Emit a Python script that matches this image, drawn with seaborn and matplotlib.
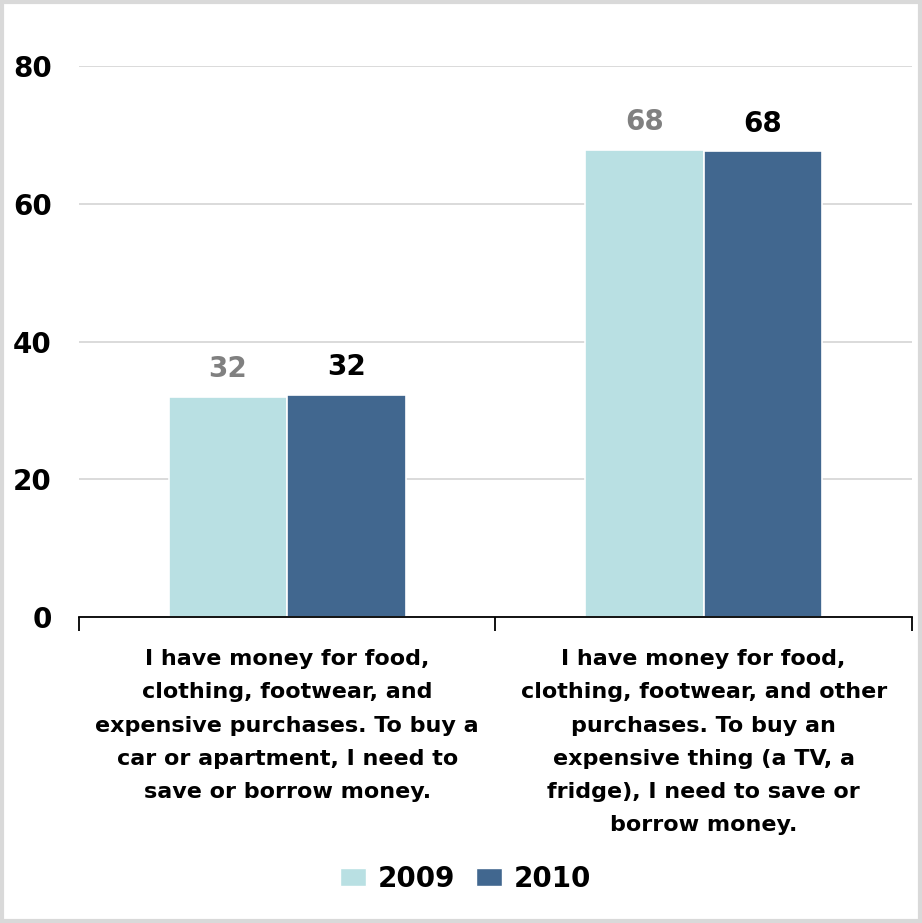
import matplotlib
matplotlib.use("Agg")
import matplotlib.pyplot as plt
import matplotlib.patches as mpatches
import seaborn as sns
import pandas as pd

sns.set_theme(style="white")
plt.rcParams["font.family"] = ["DejaVu Sans"]
plt.rcParams.update({"text.color": "black", "xtick.color": "black",
                     "ytick.color": "black", "axes.labelcolor": "black"})

categories = [
    "I have money for food,\nclothing, footwear, and\nexpensive purchases. To buy a\ncar or apartment, I need to\nsave or borrow money.",
    "I have money for food,\nclothing, footwear, and other\npurchases. To buy an\nexpensive thing (a TV, a\nfridge), I need to save or\nborrow money.",
]
years = ["2009", "2010"]
values_2009 = [31.9, 67.8]
values_2010 = [32.2, 67.6]
labels_2009 = ["32", "68"]
labels_2010 = ["32", "68"]
colors = {"2009": "#b9e0e3", "2010": "#41678f"}
label_colors = {"2009": "#808080", "2010": "#000000"}

df = pd.DataFrame({
    "category": categories * 2,
    "year": [years[0]] * 2 + [years[1]] * 2,
    "value": values_2009 + values_2010,
})

fig = plt.figure(figsize=(9.22, 9.23), dpi=100)
ax = fig.add_axes([0.0857, 0.3315, 0.9033, 0.597])

sns.barplot(data=df, x="category", y="value", hue="year", palette=colors,
            width=0.57, dodge=True, ax=ax, legend=False,
            edgecolor="white", linewidth=1.2, saturation=1)

for cont, yr, labs in zip(ax.containers, years, [labels_2009, labels_2010]):
    ax.bar_label(cont, labels=labs, padding=10, fontsize=20, fontweight="bold",
                 color=label_colors[yr])

ax.set_ylim(0, 80)
ax.set_xlim(-0.5, 1.5)
ax.set_yticks([0, 20, 40, 60, 80])
ax.yaxis.grid(True, color="#d4d4d4", linewidth=1.2)
ax.set_axisbelow(True)
for s in ["left", "right", "top"]:
    ax.spines[s].set_visible(False)
ax.spines["bottom"].set_color("black")
ax.spines["bottom"].set_linewidth(1.3)

ax.tick_params(axis="y", length=0, labelsize=20, pad=19.5)
for t in ax.get_yticklabels():
    t.set_fontweight("bold")
ax.set_xticks([0, 1])
ax.set_xticklabels(categories, fontsize=16, fontweight="bold", linespacing=1.83)
ax.tick_params(axis="x", length=0, pad=23)
ax.set_xticks([-0.5, 0.5, 1.5], minor=True)
ax.tick_params(axis="x", which="minor", length=10, width=1.3, color="black",
               direction="out", bottom=True)
ax.set_xlabel("")
ax.set_ylabel("")

handles = [mpatches.Patch(facecolor=colors[y], edgecolor="white", label=y) for y in years]
leg = fig.legend(handles=handles, loc="center", bbox_to_anchor=(0.505, 0.048),
                 ncol=2, frameon=False, prop={"size": 20, "weight": "bold"},
                 handlelength=0.95, handleheight=0.65, handletextpad=0.43,
                 columnspacing=0.72)

border = mpatches.Rectangle((0.002, 0.002), 0.996, 0.996, transform=fig.transFigure,
                            fill=False, edgecolor="#d9d9d9", linewidth=3)
fig.patches.append(border)

fig.savefig("out.png", dpi=100, facecolor="white")
